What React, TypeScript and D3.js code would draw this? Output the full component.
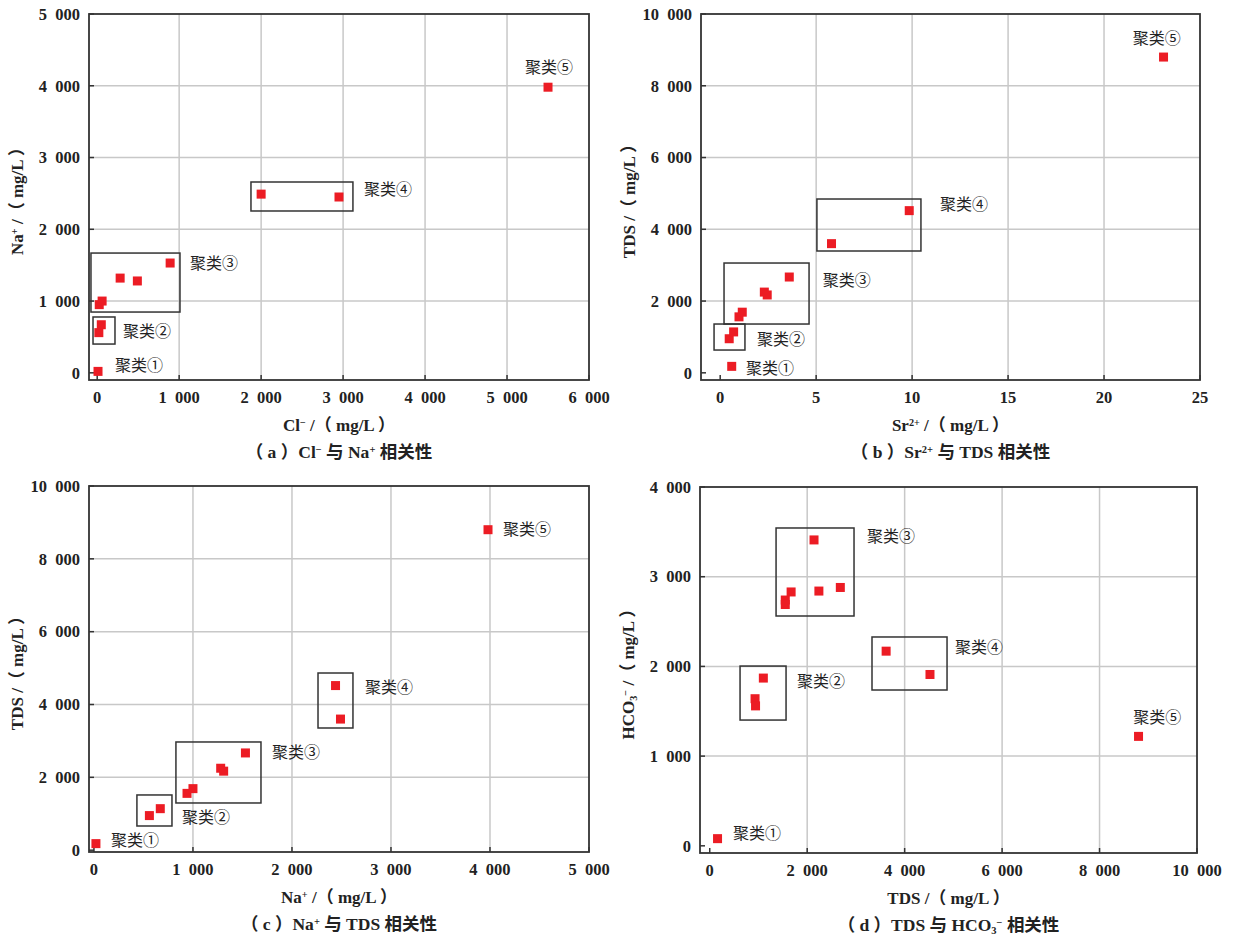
import React from 'react';
import * as d3 from 'd3';

// ---------- data ----------
// (a) Cl- vs Na+
const aCl = [10, 20, 50, 25, 60, 280, 490, 890, 2000, 2950, 5500];
const aNa = [20, 560, 670, 950, 1000, 1320, 1280, 1530, 2490, 2450, 3980];
// (b) Sr2+ vs TDS
const bSr = [0.6, 0.47, 0.7, 0.98, 1.15, 2.3, 2.45, 3.6, 5.8, 9.85, 23.1];
const bTDS = [180, 950, 1140, 1560, 1690, 2250, 2170, 2670, 3600, 4520, 8800];
// (c) Na+ vs TDS
const cNa = [20, 560, 670, 940, 1000, 1280, 1310, 1530, 2490, 2440, 3980];
const cTDS = [180, 950, 1140, 1560, 1690, 2250, 2170, 2670, 3600, 4520, 8800];
// (d) TDS vs HCO3-
const dTDS = [160, 930, 940, 1100, 1550, 1550, 1670, 2140, 2240, 2680, 3620, 4520, 8800];
const dHCO3 = [80, 1640, 1560, 1870, 2740, 2690, 2830, 3410, 2840, 2880, 2170, 1910, 1220];

// cluster boxes [x0, x1, y0, y1] in data units
const aBoxes = [[-76, 1010, 847, 1669], [-51, 217, 401, 778], [1876, 3120, 2255, 2659]];
const bBoxes = [[0.2, 4.63, 1360, 3060], [-0.32, 1.29, 635, 1360], [5.04, 10.46, 3395, 4844]];
const cBoxes = [[434, 788, 664, 1516], [828, 1687, 1296, 2971], [2263, 2616, 3355, 4865]];
const dBoxes = [[1361, 2961, 2562, 3543], [622, 1566, 1402, 2004], [3330, 4870, 1737, 2328]];

const clusterNames = ['聚类①', '聚类②', '聚类③', '聚类④', '聚类⑤'];
// label anchor positions [x, y] in data units, per cluster
const aLabelPos = [[217, 109], [316, 583], [1132, 1530], [3254, 2560], [5220, 4260]];
const bLabelPos = [[1.34, 134], [1.92, 942], [5.35, 2586], [11.45, 4700], [21.5, 9330]];
const cLabelPos = [[172, 280], [889, 912], [1798, 2696], [2737, 4480], [4131, 8820]];
const dLabelPos = [[478, 143], [1790, 1837], [3228, 3454], [5034, 2216], [8690, 1436]];

const aXTicks = [0, 1000, 2000, 3000, 4000, 5000, 6000];
const aYTicks = [0, 1000, 2000, 3000, 4000, 5000];
const bXTicks = [0, 5, 10, 15, 20, 25];
const bYTicks = [0, 2000, 4000, 6000, 8000, 10000];
const cXTicks = [0, 1000, 2000, 3000, 4000, 5000];
const cYTicks = [0, 2000, 4000, 6000, 8000, 10000];
const dXTicks = [0, 2000, 4000, 6000, 8000, 10000];
const dYTicks = [0, 1000, 2000, 3000, 4000];

const fmt = d3
  .formatLocale({ decimal: '.', thousands: '\u2002', grouping: [3], currency: ['', ''] })
  .format(',d');

const LATIN = "'Liberation Serif', 'Noto Sans CJK SC', serif";
const CJK = "'Noto Sans CJK SC', sans-serif";

const Sup = ({ t }: { t: string }) => (
  <tspan baselineShift="super" fontSize="0.6em">{t}</tspan>
);
const Sub = ({ t }: { t: string }) => (
  <tspan baselineShift="-3" fontSize="0.6em">{t}</tspan>
);

type PanelProps = {
  left: number; top: number; width: number; height: number;
  xDomain: [number, number]; yDomain: [number, number];
  xTicks: number[]; yTicks: number[];
  xs: number[]; ys: number[];
  boxes: number[][]; labelPos: number[][];
  xTitle: React.ReactNode; yTitle: React.ReactNode; caption: React.ReactNode;
};

function Panel(p: PanelProps) {
  const x = d3.scaleLinear().domain(p.xDomain).range([p.left, p.left + p.width]);
  const y = d3.scaleLinear().domain(p.yDomain).range([p.top + p.height, p.top]);
  const bottom = p.top + p.height;
  const right = p.left + p.width;
  const cx = p.left + p.width / 2;
  const cy = p.top + p.height / 2;
  const grid = '#c8c8c8';
  const ink = '#333';
  return (
    <g>
      {/* grid */}
      {p.xTicks.filter((t) => t !== 0 && Math.abs(x(t) - right) > 1).map((t) => (
        <line key={'gx' + t} x1={x(t)} x2={x(t)} y1={p.top} y2={bottom} stroke={grid} strokeWidth={1.5} />
      ))}
      {p.yTicks.filter((t) => t !== 0 && Math.abs(y(t) - p.top) > 1).map((t) => (
        <line key={'gy' + t} x1={p.left} x2={right} y1={y(t)} y2={y(t)} stroke={grid} strokeWidth={1.5} />
      ))}
      {/* inward ticks */}
      {p.xTicks.map((t) => (
        <line key={'tx' + t} x1={x(t)} x2={x(t)} y1={bottom} y2={bottom - 5} stroke={ink} strokeWidth={1.5} />
      ))}
      {p.yTicks.map((t) => (
        <line key={'ty' + t} x1={p.left} x2={p.left + 5} y1={y(t)} y2={y(t)} stroke={ink} strokeWidth={1.5} />
      ))}
      {/* frame */}
      <rect x={p.left} y={p.top} width={p.width} height={p.height} fill="none" stroke={ink} strokeWidth={1.8} />
      {/* tick labels */}
      {p.xTicks.map((t) => (
        <text key={'lx' + t} x={x(t)} y={bottom + 23} textAnchor="middle" fontFamily={LATIN}
          fontWeight="bold" fontSize={16.5} fill="#222">{fmt(t)}</text>
      ))}
      {p.yTicks.map((t) => (
        <text key={'ly' + t} x={p.left - 9} y={y(t)} dy="0.35em" textAnchor="end" fontFamily={LATIN}
          fontWeight="bold" fontSize={16.5} fill="#222">{fmt(t)}</text>
      ))}
      {/* cluster boxes */}
      {p.boxes.map((b, i) => (
        <rect key={'b' + i} x={x(b[0])} y={y(b[3])} width={x(b[1]) - x(b[0])} height={y(b[2]) - y(b[3])}
          fill="none" stroke={ink} strokeWidth={1.5} />
      ))}
      {/* points */}
      {p.xs.map((v, i) => (
        <rect key={'p' + i} x={x(v) - 4.5} y={y(p.ys[i]) - 4.5} width={9} height={9} fill="#ec1c24" />
      ))}
      {/* cluster labels */}
      {p.labelPos.map((l, i) => (
        <text key={'cl' + i} x={x(l[0])} y={y(l[1])} dy="0.35em" fontFamily={CJK} fontSize={16}
          fill="#222">{clusterNames[i]}</text>
      ))}
      {/* titles */}
      <text x={cx} y={bottom + 51} textAnchor="middle" fontFamily={LATIN} fontWeight="bold" fontSize={17}
        fill="#222">{p.xTitle}</text>
      <text transform={`translate(${p.left - 66},${cy}) rotate(-90)`} textAnchor="middle" fontFamily={LATIN}
        fontWeight="bold" fontSize={17} fill="#222">{p.yTitle}</text>
      <text x={cx} y={bottom + 78} textAnchor="middle" fontFamily={LATIN} fontWeight="bold" fontSize={17.5}
        fill="#222">{p.caption}</text>
    </g>
  );
}

export default function App() {
  return (
    <svg width={1235} height={939} style={{ position: 'absolute', left: 0, top: 0, background: '#fff' }}>
      <rect width={1235} height={939} fill="#fff" />
      <Panel left={89} top={14} width={500} height={366} xDomain={[-100, 6000]} yDomain={[-100, 5000]}
        xTicks={aXTicks} yTicks={aYTicks} xs={aCl} ys={aNa} boxes={aBoxes} labelPos={aLabelPos}
        xTitle={<>Cl<Sup t="−" /> /（ mg/L ）</>}
        yTitle={<>Na<Sup t="+" /> /（ mg/L ）</>}
        caption={<>（ a ）Cl<Sup t="−" /> 与 Na<Sup t="+" /> 相关性</>} />
      <Panel left={701} top={14} width={499} height={366} xDomain={[-1, 25]} yDomain={[-200, 10000]}
        xTicks={bXTicks} yTicks={bYTicks} xs={bSr} ys={bTDS} boxes={bBoxes} labelPos={bLabelPos}
        xTitle={<>Sr<Sup t="2+" /> /（ mg/L ）</>}
        yTitle={<>TDS /（ mg/L ）</>}
        caption={<>（ b ）Sr<Sup t="2+" /> 与 TDS 相关性</>} />
      <Panel left={89} top={486} width={500} height={366} xDomain={[-50, 5000]} yDomain={[-50, 10000]}
        xTicks={cXTicks} yTicks={cYTicks} xs={cNa} ys={cTDS} boxes={cBoxes} labelPos={cLabelPos}
        xTitle={<>Na<Sup t="+" /> /（ mg/L ）</>}
        yTitle={<>TDS /（ mg/L ）</>}
        caption={<>（ c ）Na<Sup t="+" /> 与 TDS 相关性</>} />
      <Panel left={700} top={487} width={497} height={366} xDomain={[-200, 10000]} yDomain={[-80, 4000]}
        xTicks={dXTicks} yTicks={dYTicks} xs={dTDS} ys={dHCO3} boxes={dBoxes} labelPos={dLabelPos}
        xTitle={<>TDS /（ mg/L ）</>}
        yTitle={<>HCO<Sub t="3" /><tspan baselineShift="super" fontSize="0.6em">−</tspan> /（ mg/L ）</>}
        caption={<>（ d ）TDS 与 HCO<Sub t="3" /><Sup t="−" /> 相关性</>} />
    </svg>
  );
}
